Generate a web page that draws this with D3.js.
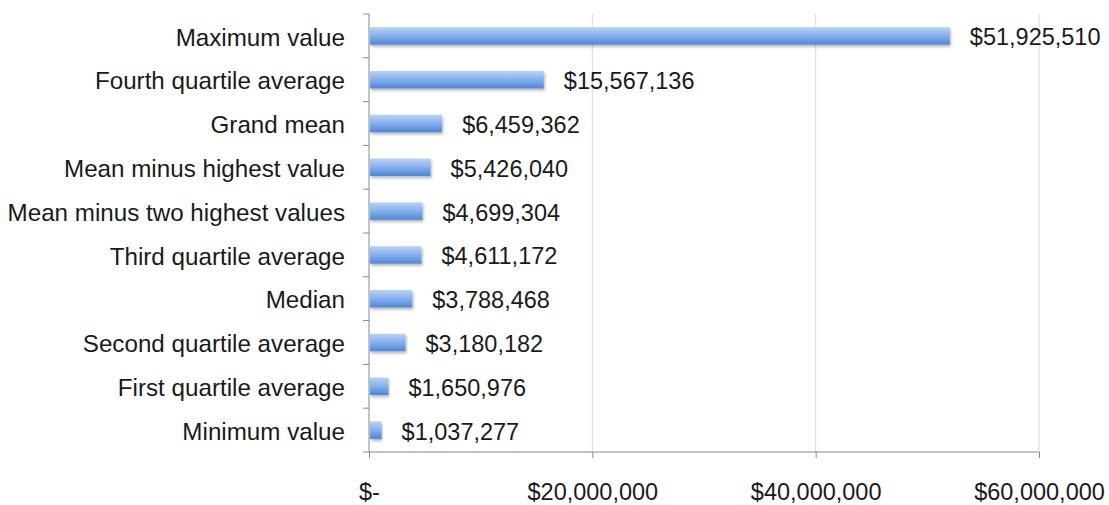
<!DOCTYPE html>
<html><head><meta charset="utf-8">
<script src="https://cdn.jsdelivr.net/npm/d3@7"></script>
<style>body{margin:0;background:#fff}svg{display:block}text{font-family:"Liberation Sans",Arial,sans-serif}</style>
</head><body><svg id="c" width="1109" height="505"></svg>
<script>
const categories=["Maximum value","Fourth quartile average","Grand mean","Mean minus highest value","Mean minus two highest values","Third quartile average","Median","Second quartile average","First quartile average","Minimum value"];
const values=[51925510,15567136,6459362,5426040,4699304,4611172,3788468,3180182,1650976,1037277];
const tickValues=[0,20000000,40000000,60000000];
const tickLabels=["$-","$20,000,000","$40,000,000","$60,000,000"];

const svg=d3.select("#c");
const m={l:369,r:1039,t:14,b:452};
const FS=23.5;
const x=d3.scaleLinear().domain([0,60000000]).range([m.l,m.r]);
const y=d3.scaleBand().domain(categories).range([m.t,m.b]).paddingInner(0.6).paddingOuter(0.3);
const defs=svg.append("defs");
const g=defs.append("linearGradient").attr("id","bg").attr("x1",0).attr("y1",0).attr("x2",0).attr("y2",1);
g.append("stop").attr("offset",0).attr("stop-color","#b9d3f6");
g.append("stop").attr("offset",0.45).attr("stop-color","#8ab3ee");
g.append("stop").attr("offset",1).attr("stop-color","#4f86d8");
const f=defs.append("filter").attr("id","sh").attr("x","-5%").attr("y","-30%").attr("width","110%").attr("height","180%");
f.append("feDropShadow").attr("dx",1).attr("dy",2).attr("stdDeviation",1.5).attr("flood-color","#000").attr("flood-opacity",0.3);

// gridlines
svg.append("g").selectAll("line").data(tickValues.slice(1)).join("line")
 .attr("x1",d=>x(d)).attr("x2",d=>x(d)).attr("y1",m.t).attr("y2",m.b)
 .attr("stroke","#d9d9d9").attr("stroke-width",1);

// bars
svg.append("g").selectAll("rect").data(values).join("rect")
 .attr("x",x(0)+1).attr("y",(d,i)=>y(categories[i]))
 .attr("width",d=>x(d)-x(0)).attr("height",y.bandwidth())
 .attr("fill","url(#bg)").attr("filter","url(#sh)");

// value labels
svg.append("g").selectAll("text").data(values).join("text")
 .attr("x",d=>x(d)+21).attr("y",(d,i)=>y(categories[i])+y.bandwidth()/2+1)
 .attr("dy","0.36em").attr("font-size",FS).attr("fill","#1a1a1a")
 .text(d=>"$"+d3.format(",")(d));

// x axis
const xa=d3.axisBottom(x).tickValues(tickValues).tickSize(6).tickFormat((d,i)=>tickLabels[i]);
const gx=svg.append("g").attr("transform",`translate(0,${m.b})`).call(xa);
gx.select(".domain").attr("stroke","#888").attr("d",`M${m.l},0H${m.r}`);
gx.selectAll(".tick line").attr("stroke","#888");
gx.selectAll(".tick text").attr("font-size",FS).attr("fill","#1a1a1a").attr("y",48).attr("dy",null).attr("font-family","Liberation Sans, Arial, sans-serif");

// y axis
const ya=d3.axisLeft(y).tickSize(0);
const gy=svg.append("g").attr("transform",`translate(${m.l},0)`).call(ya);
gy.select(".domain").attr("stroke","#888").attr("d",`M0,${m.t}V${m.b}`);
gy.selectAll(".tick text").attr("font-size",24.2).attr("fill","#1a1a1a").attr("x",-24).attr("dy","0.4em").attr("font-family","Liberation Sans, Arial, sans-serif");
// band boundary ticks
const step=(m.b-m.t)/categories.length;
gy.append("g").selectAll("line").data(d3.range(categories.length+1)).join("line")
 .attr("x1",-6).attr("x2",0).attr("y1",i=>m.t+i*step).attr("y2",i=>m.t+i*step).attr("stroke","#888");
</script></body></html>
